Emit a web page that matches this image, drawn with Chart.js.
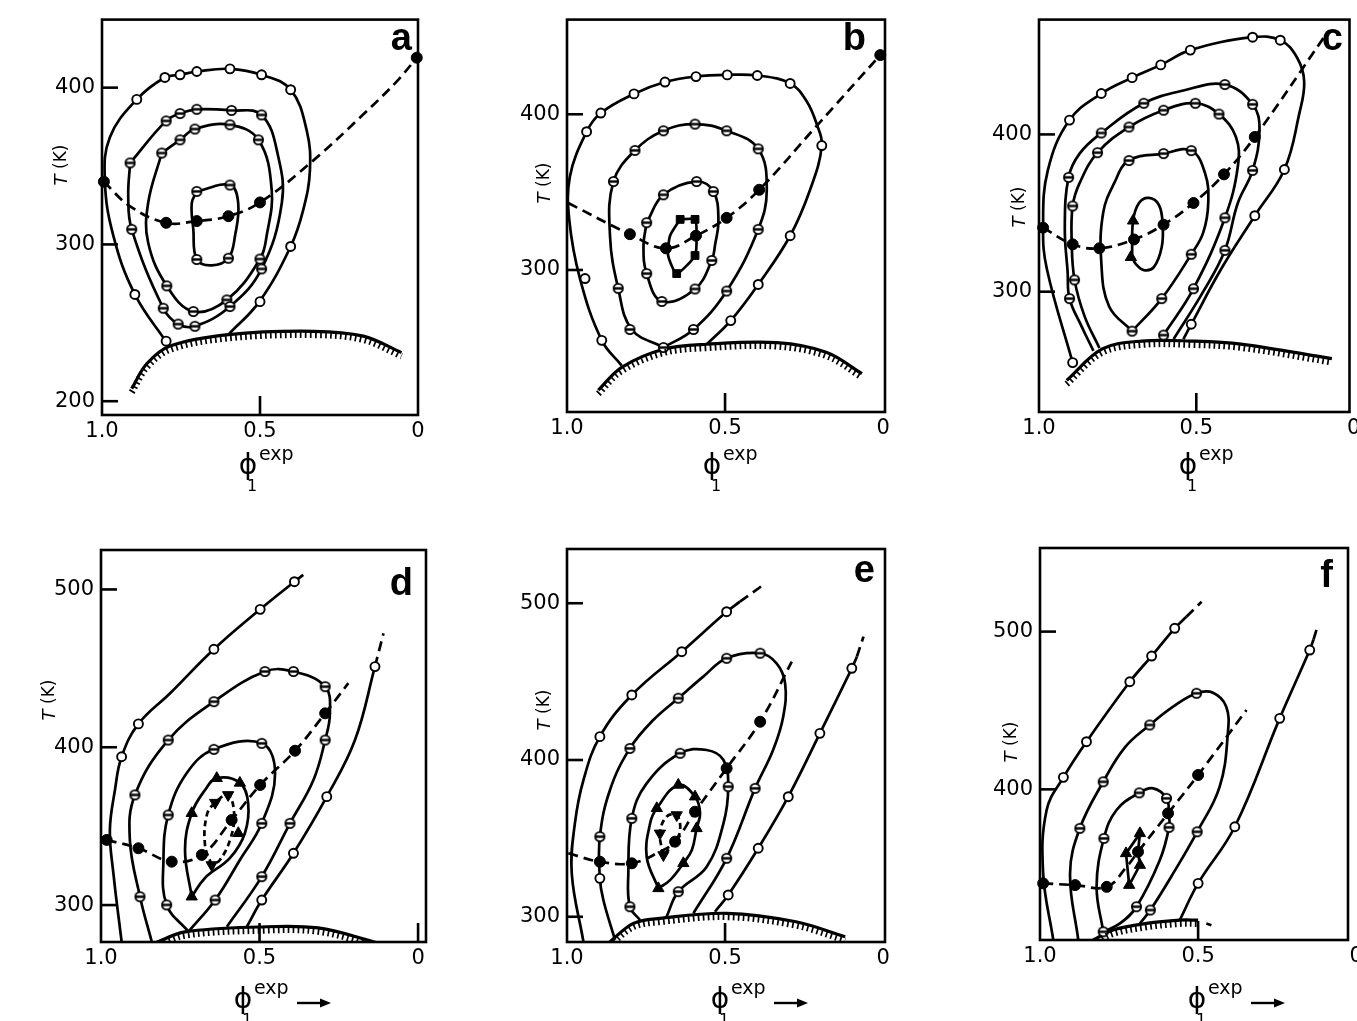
<!DOCTYPE html>
<html><head><meta charset="utf-8">
<script src="https://cdn.jsdelivr.net/npm/chart.js@4.4.1/dist/chart.umd.min.js"></script>
<style>
html,body{margin:0;padding:0;background:#fff;}
#wrap{position:relative;width:1357px;height:1021px;overflow:hidden;background:#fff;}
.pane{position:absolute;}
</style></head><body><div id="wrap"></div>
<script>
// ---------- tick labels ----------
const xTickVals = [1, 0.5, 0];
const xTickLabels = ['1.0', '0.5', '0'];
const yTicksA = [200, 300, 400];
const yTicksB = [300, 400];
const yTicksC = [300, 400];
const yTicksD = [300, 400, 500];
const yTicksE = [300, 400, 500];
const yTicksF = [400, 500];
const letters = ['a','b','c','d','e','f'];

// ---------- panel a ----------
const aOuter = [[0.795,237.3],[0.896,268.1],[0.964,305.5],[0.991,341.0],[0.975,368.4],[0.890,392.5],[0.801,406.5],[0.753,408.2],[0.700,410.3],[0.595,412.0],[0.495,408.2],[0.403,398.7],[0.352,372.5],[0.342,347.4],[0.363,322.2],[0.403,298.7],[0.502,263.5],[0.600,242.5]];
const aOuterPts = [[0.797,238.3],[0.896,268.1],[0.890,392.5],[0.801,406.5],[0.753,408.2],[0.700,410.3],[0.595,412.0],[0.495,408.2],[0.403,398.7],[0.403,298.7],[0.500,263.5]];
const aLoop2 = [[0.911,352.0],[0.797,378.8],[0.753,383.5],[0.700,386.2],[0.590,385.5],[0.495,382.6],[0.442,355.8],[0.431,326.4],[0.495,284.4],[0.595,260.4],[0.706,247.8],[0.759,249.2],[0.806,259.3],[0.906,309.6],[0.917,330.6],[0.911,352.0]];
const aLoop2Pts = [[0.911,352.0],[0.797,378.8],[0.753,383.5],[0.700,386.2],[0.590,385.5],[0.495,382.6],[0.495,284.4],[0.595,260.4],[0.706,247.8],[0.759,249.2],[0.806,259.3],[0.906,309.6]];
const aLoop3 = [[0.811,358.3],[0.753,366.7],[0.706,373.6],[0.595,376.3],[0.505,366.7],[0.463,334.8],[0.479,305.5],[0.500,290.7],[0.605,264.6],[0.711,257.2],[0.795,273.6],[0.854,301.2],[0.854,326.4],[0.811,358.3]];
const aLoop3Pts = [[0.811,358.3],[0.753,366.7],[0.706,373.6],[0.595,376.3],[0.505,366.7],[0.500,290.7],[0.605,264.6],[0.711,257.2],[0.795,273.6]];
const aInner = [[0.700,333.8],[0.595,337.9],[0.569,326.4],[0.579,305.5],[0.600,291.2],[0.653,286.6],[0.700,290.4],[0.711,309.6],[0.716,326.4],[0.700,333.8]];
const aInnerPts = [[0.700,333.8],[0.595,337.9],[0.600,291.2],[0.700,290.4]];
const aDash = [[0.994,340.0],[0.911,324.3],[0.797,313.8],[0.700,314.9],[0.600,318.0],[0.500,326.8],[0.331,353.6],[0.173,383.0],[0.067,404.0],[0.004,419.1]];
const aDashPts = [[0.994,340.0],[0.797,313.8],[0.700,314.9],[0.600,318.0],[0.500,326.8],[0.004,419.1]];
const aHatch = [[0.906,208.0],[0.859,223.7],[0.785,235.2],[0.600,242.5],[0.331,244.6],[0.173,241.5],[0.052,231.0]];

// ---------- panel b ----------
const bOuter = [[0.827,238.6],[0.890,254.8],[0.959,294.5],[0.993,332.5],[0.991,359.9],[0.938,388.8],[0.893,400.8],[0.788,413.1],[0.690,420.7],[0.592,424.2],[0.493,425.3],[0.398,424.9],[0.294,419.8],[0.242,408.4],[0.210,393.7],[0.194,379.9],[0.231,351.5],[0.294,322.0],[0.395,290.7],[0.482,267.5],[0.558,252.3]];
const bOuterPts = [[0.890,254.8],[0.943,294.5],[0.938,388.8],[0.893,400.8],[0.788,413.1],[0.690,420.7],[0.592,424.2],[0.493,425.3],[0.398,424.9],[0.294,419.8],[0.194,379.9],[0.294,322.0],[0.395,290.7],[0.482,267.5]];
const bLoop2 = [[0.695,250.2],[0.795,261.8],[0.838,288.2],[0.864,322.0],[0.853,356.8],[0.785,376.8],[0.695,389.4],[0.595,393.7],[0.495,389.4],[0.395,377.8],[0.368,351.5],[0.395,326.1],[0.495,286.5],[0.600,261.8],[0.695,250.2]];
const bLoop2Pts = [[0.695,250.2],[0.801,261.8],[0.838,288.2],[0.853,356.8],[0.785,376.8],[0.695,389.4],[0.595,393.7],[0.495,389.4],[0.395,377.8],[0.395,326.1],[0.495,286.5],[0.600,261.8]];
const bLoop3 = [[0.748,330.4],[0.695,348.3],[0.590,356.8],[0.537,350.4],[0.521,332.5],[0.532,315.6],[0.542,306.1],[0.595,287.8],[0.700,279.8],[0.748,297.7],[0.758,315.6],[0.748,330.4]];
const bLoop3Pts = [[0.748,330.4],[0.695,348.3],[0.590,356.8],[0.537,350.4],[0.542,306.1],[0.595,287.8],[0.700,279.8],[0.748,297.7]];
const bSq = [[0.642,332.5],[0.595,332.5],[0.590,322.0],[0.595,309.3],[0.653,297.7],[0.680,309.3],[0.674,322.0],[0.642,332.5]];
const bSqPts = [[0.642,332.5],[0.595,332.5],[0.595,309.3],[0.653,297.7]];
const bDash = [[0.996,343.0],[0.801,323.0],[0.687,313.9],[0.592,322.0],[0.495,333.5],[0.392,351.5],[0.210,392.6],[0.009,438.0]];
const bDashPts = [[0.801,323.0],[0.687,313.9],[0.592,322.0],[0.495,333.5],[0.392,351.5],[0.009,438.0]];
const bHatch = [[0.901,222.8],[0.827,237.5],[0.695,249.1],[0.558,252.3],[0.336,253.3],[0.178,247.0],[0.067,233.4]];

// ---------- panel c ----------
const cOuter = [[0.893,254.9],[0.975,314.4],[0.987,340.7],[0.972,377.1],[0.903,409.1],[0.802,426.0],[0.704,436.1],[0.613,444.2],[0.519,453.6],[0.321,461.8],[0.233,459.9],[0.179,448.6],[0.157,433.5],[0.173,412.9],[0.220,377.7],[0.314,348.3],[0.421,314.4],[0.516,279.3],[0.541,269.9]];
const cOuterPts = [[0.893,254.9],[0.903,409.1],[0.802,426.0],[0.704,436.1],[0.613,444.2],[0.519,453.6],[0.321,461.8],[0.233,459.9],[0.220,377.7],[0.314,348.3],[0.516,279.3]];
const cLoop2 = [[0.827,262.4],[0.865,278.1],[0.903,295.6],[0.909,312.5],[0.918,340.7],[0.906,372.7],[0.871,387.8],[0.802,400.9],[0.667,419.8],[0.541,427.9],[0.409,431.7],[0.321,419.1],[0.299,403.4],[0.321,377.1],[0.368,356.4],[0.409,326.3],[0.478,300.0],[0.572,269.9]];
const cLoop2Pts = [[0.903,295.6],[0.906,372.7],[0.802,400.9],[0.667,419.8],[0.409,431.7],[0.321,419.1],[0.321,377.1],[0.409,326.3]];
const cLoop3 = [[0.808,264.2],[0.855,284.3],[0.887,307.5],[0.896,331.3],[0.893,354.5],[0.871,369.0],[0.814,388.4],[0.714,404.7],[0.604,415.4],[0.503,419.8],[0.428,412.9],[0.374,398.4],[0.368,379.6],[0.409,347.0],[0.509,301.9],[0.604,272.4]];
const cLoop3Pts = [[0.887,307.5],[0.893,354.5],[0.814,388.4],[0.714,404.7],[0.604,415.4],[0.503,419.8],[0.428,412.9],[0.409,347.0],[0.509,301.9],[0.604,272.4]];
const cLoop4 = [[0.704,274.9],[0.777,290.6],[0.802,318.8],[0.796,350.2],[0.761,369.0],[0.714,383.4],[0.604,387.8],[0.516,389.7],[0.472,375.2],[0.462,356.4],[0.478,337.6],[0.516,323.8],[0.610,295.6],[0.704,274.9]];
const cLoop4Pts = [[0.704,274.9],[0.714,383.4],[0.604,387.8],[0.516,389.7],[0.516,323.8],[0.610,295.6]];
const cInner = [[0.704,321.9],[0.701,345.1],[0.682,356.4],[0.651,359.6],[0.619,355.2],[0.607,342.6],[0.610,328.2],[0.635,315.6],[0.667,313.7],[0.692,317.5],[0.704,321.9]];
const cTri = [[0.701,345.1],[0.708,321.9]];
const cDash = [[0.987,340.7],[0.893,330.1],[0.808,327.6],[0.698,333.2],[0.604,342.6],[0.509,356.4],[0.412,374.6],[0.314,398.4],[0.094,461.8]];
const cDashPts = [[0.987,340.7],[0.893,330.1],[0.808,327.6],[0.698,333.2],[0.604,342.6],[0.509,356.4],[0.412,374.6],[0.314,398.4]];
const cHatch = [[0.912,243.6],[0.799,263.6],[0.673,268.6],[0.516,268.6],[0.358,266.7],[0.069,257.4]];

// ---------- panel d ----------
const dC1 = [[0.935,276.8],[0.961,320.2],[0.972,347.6],[0.956,372.9],[0.935,394.0],[0.882,414.8],[0.782,434.2],[0.644,462.1],[0.498,487.4],[0.390,504.9],[0.362,509.2]];
const dC1Pts = [[0.935,394.0],[0.882,414.8],[0.644,462.1],[0.498,487.4],[0.390,504.9]];
const dC2 = [[0.840,276.8],[0.877,305.3],[0.909,341.3],[0.893,369.8],[0.788,404.6],[0.644,428.9],[0.483,448.0],[0.393,448.0],[0.293,438.4],[0.278,421.5],[0.293,404.6],[0.330,379.3],[0.404,351.8],[0.493,318.0],[0.603,286.3]];
const dC2Pts = [[0.877,305.3],[0.893,369.8],[0.788,404.6],[0.644,428.9],[0.483,448.0],[0.393,448.0],[0.293,438.4],[0.293,404.6],[0.404,351.8],[0.493,318.0]];
const dC3 = [[0.724,283.2],[0.640,303.2],[0.562,328.6],[0.493,351.8],[0.451,383.5],[0.493,402.5],[0.644,398.7],[0.730,383.5],[0.788,357.1],[0.803,328.6],[0.793,300.1],[0.724,283.2]];
const dC3Pts = [[0.793,300.1],[0.640,303.2],[0.493,351.8],[0.493,402.5],[0.644,398.7],[0.788,357.1]];
const dTri1 = [[0.714,305.3],[0.735,334.9],[0.714,358.2],[0.672,372.9],[0.635,380.4],[0.562,377.4],[0.536,364.7],[0.546,345.7],[0.593,329.9],[0.672,317.2],[0.714,305.3]];
const dTri1Pts = [[0.714,305.3],[0.714,358.2],[0.635,380.4],[0.562,377.4],[0.567,345.5]];
const dTri2 = [[0.651,325.4],[0.672,338.1],[0.666,357.2],[0.640,364.9],[0.599,369.8],[0.580,357.2],[0.593,341.3],[0.625,328.6],[0.651,325.4]];
const dTri2Pts = [[0.651,325.4],[0.640,364.9],[0.599,369.8]];
const dDash = [[0.982,341.3],[0.882,336.0],[0.777,327.5],[0.682,331.8],[0.588,353.9],[0.498,376.1],[0.388,397.8],[0.293,421.5],[0.220,440.6]];
const dDashPts = [[0.982,341.3],[0.882,336.0],[0.777,327.5],[0.682,331.8],[0.588,353.9],[0.498,376.1],[0.388,397.8],[0.293,421.5]];
const dC5 = [[0.540,286.3],[0.493,303.2],[0.393,332.8],[0.288,368.7],[0.199,404.6],[0.136,451.1]];
const dC5Ext = [[0.136,451.1],[0.109,472.2]];
const dC5Pts = [[0.493,303.2],[0.393,332.8],[0.288,368.7],[0.136,451.1]];
const dHatch = [[0.830,276.0],[0.735,283.0],[0.505,286.1],[0.315,285.5],[0.126,276.0]];

// ---------- panel e ----------
const eC1 = [[0.948,284.1],[0.985,327.7],[0.975,359.6],[0.948,387.2],[0.896,414.9],[0.795,441.5],[0.637,469.1],[0.495,494.6],[0.453,501.0]];
const eC1Ext = [[0.453,501.0],[0.379,511.7]];
const eC1Pts = [[0.896,414.9],[0.795,441.5],[0.637,469.1],[0.495,494.6]];
const eC2 = [[0.848,285.2],[0.885,310.7],[0.896,324.5],[0.896,351.1],[0.864,380.9],[0.801,407.4],[0.727,425.5],[0.648,439.4],[0.569,453.2],[0.495,464.9],[0.389,468.1],[0.337,461.7],[0.310,448.9],[0.316,427.6],[0.348,406.4],[0.405,381.9],[0.495,337.3],[0.600,302.2]];
const eC2Pts = [[0.896,351.1],[0.801,407.4],[0.648,439.4],[0.495,464.9],[0.389,468.1],[0.405,381.9],[0.495,337.3]];
const eC2Open = [[0.896,324.5]];
const eC3 = [[0.769,297.9],[0.801,306.4],[0.806,327.7],[0.795,362.8],[0.748,385.1],[0.642,404.3],[0.558,406.4],[0.505,400.0],[0.490,383.0],[0.505,359.6],[0.558,331.9],[0.648,316.0],[0.685,300.0]];
const eC3Pts = [[0.801,306.4],[0.795,362.8],[0.642,404.3],[0.490,383.0],[0.648,316.0]];
const eTri1 = [[0.711,318.1],[0.748,338.3],[0.737,359.6],[0.716,369.2],[0.648,384.1],[0.595,376.6],[0.579,366.0],[0.590,356.4],[0.605,342.6],[0.632,334.1],[0.674,323.4],[0.711,318.1]];
const eTri1Pts = [[0.711,318.1],[0.716,369.2],[0.648,384.1],[0.595,376.6],[0.590,356.4],[0.632,334.1]];
const eTri2 = [[0.695,339.4],[0.706,353.2],[0.685,363.8],[0.653,364.9],[0.642,355.3],[0.658,347.9],[0.685,341.5],[0.695,339.4]];
const eTri2Pts = [[0.706,353.2],[0.653,364.9],[0.695,339.4]];
const eDash = [[0.996,340.5],[0.896,335.1],[0.795,334.1],[0.706,341.5],[0.658,347.9],[0.595,367.0],[0.495,394.7],[0.389,424.4],[0.289,462.7]];
const eDashPts = [[0.896,335.1],[0.795,334.1],[0.658,347.9],[0.595,367.0],[0.495,394.7],[0.389,424.4]];
const eC5 = [[0.532,303.2],[0.490,313.9],[0.395,343.7],[0.300,376.6],[0.200,417.0],[0.099,458.5],[0.083,465.9]];
const eC5Ext = [[0.083,465.9],[0.062,478.7]];
const eC5Pts = [[0.490,313.9],[0.395,343.7],[0.300,376.6],[0.200,417.0],[0.099,458.5]];
const eHatch = [[0.864,284.1],[0.790,295.8],[0.706,299.0],[0.495,302.2],[0.276,296.8],[0.120,287.3]];

// ---------- panel f ----------
const fC1 = [[0.958,304.5],[0.990,346.7],[0.979,386.9],[0.926,407.6],[0.853,430.2],[0.716,468.2],[0.647,484.5],[0.574,502.1],[0.537,509.4]];
const fC1Ext = [[0.537,509.4],[0.489,518.9]];
const fC1Pts = [[0.926,407.6],[0.853,430.2],[0.716,468.2],[0.647,484.5],[0.574,502.1]];
const fC2 = [[0.879,304.5],[0.905,346.7],[0.874,375.3],[0.800,404.8],[0.732,426.5],[0.653,440.8],[0.579,452.4],[0.505,460.9],[0.453,461.2],[0.411,452.4],[0.406,435.5],[0.432,401.6],[0.503,373.1],[0.579,346.7],[0.651,323.5],[0.684,315.0]];
const fC2Pts = [[0.874,375.3],[0.800,404.8],[0.653,440.8],[0.505,460.9],[0.503,373.1],[0.651,323.5]];
const fC3 = [[0.800,309.7],[0.821,338.2],[0.798,368.9],[0.758,386.9],[0.686,397.8],[0.642,400.6],[0.600,394.3],[0.592,384.8],[0.592,375.9],[0.621,355.2],[0.695,325.6],[0.747,315.0],[0.800,309.7]];
const fC3Pts = [[0.800,309.7],[0.798,368.9],[0.686,397.8],[0.600,394.3],[0.592,375.9],[0.695,325.6]];
const fTri = [[0.718,339.3],[0.728,359.4],[0.684,372.1],[0.690,360.4],[0.684,352.0],[0.718,339.3]];
const fTriPts = [[0.684,372.1],[0.728,359.4],[0.684,352.0],[0.718,339.3]];
const fDash = [[0.990,340.4],[0.889,339.3],[0.789,338.2],[0.726,350.9],[0.690,360.4],[0.595,384.8],[0.500,409.1],[0.347,450.3]];
const fDashPts = [[0.990,340.4],[0.889,339.3],[0.789,338.2],[0.690,360.4],[0.595,384.8],[0.500,409.1]];
const fC5 = [[0.558,317.1],[0.500,340.4],[0.384,376.3],[0.242,445.0],[0.147,488.3],[0.135,495.0]];
const fC5Ext = [[0.135,495.0],[0.121,504.2]];
const fC5Pts = [[0.500,340.4],[0.384,376.3],[0.242,445.0],[0.147,488.3]];
const fHatch = [[0.832,304.5],[0.769,310.8],[0.663,315.0],[0.558,317.1],[0.500,317.1]];
const fHatchExt = [[0.474,315.0],[0.458,313.9]];

// ---------- helpers ----------
const FAM = '"DejaVu Sans", "Liberation Sans", sans-serif';
const LW = 2.7;
const P = arr => arr.map(([x, y]) => ({x, y}));
const thetaImg = (() => {
  const c = document.createElement('canvas'); c.width = 13; c.height = 13;
  const g = c.getContext('2d');
  g.beginPath(); g.arc(6.5, 6.5, 4.6, 0, Math.PI * 2); g.fillStyle = '#fff'; g.fill();
  g.lineWidth = 1.9; g.strokeStyle = '#000'; g.stroke();
  g.beginPath(); g.moveTo(2, 6.5); g.lineTo(11, 6.5); g.lineWidth = 2.4; g.stroke();
  return c;
})();
function curve(arr, extra) {
  return Object.assign({data: P(arr), showLine: true, pointRadius: 0, borderColor: '#000', borderWidth: LW,
    tension: 0.4, fill: false, order: 1}, extra || {});
}
function dashed(arr, extra) { return curve(arr, Object.assign({borderDash: [10, 6]}, extra || {})); }
function hatch(arr) { return curve(arr, {borderWidth: 3.2, hatch: true, order: 2, tension: 0.35}); }
function marks(arr, kind) {
  const base = {data: P(arr), showLine: false, order: 0, clip: false, borderColor: '#000'};
  if (kind === 'open') return Object.assign(base, {pointStyle: 'circle', pointRadius: 4.5, pointBackgroundColor: '#fff', pointBorderColor: '#000', pointBorderWidth: 1.9});
  if (kind === 'theta') return Object.assign(base, {pointStyle: thetaImg, pointRadius: 5});
  if (kind === 'dot') return Object.assign(base, {pointStyle: 'circle', pointRadius: 5.5, pointBackgroundColor: '#000', pointBorderColor: '#000', pointBorderWidth: 1});
  if (kind === 'square') return Object.assign(base, {pointStyle: 'rect', pointRadius: 5.5, pointBackgroundColor: '#000', pointBorderColor: '#000', pointBorderWidth: 1});
  if (kind === 'up') return Object.assign(base, {pointStyle: 'triangle', pointRadius: 6.5, pointBackgroundColor: '#000', pointBorderColor: '#000', pointBorderWidth: 1});
  if (kind === 'down') return Object.assign(base, {pointStyle: 'triangle', pointRotation: 180, pointRadius: 6.5, pointBackgroundColor: '#000', pointBorderColor: '#000', pointBorderWidth: 1});
}

// ---------- panels (layout) ----------
const panels = [
  {canvas: [0, 0, 455, 500], plot: [102, 14, 418, 415], xr: [0, 1], yr: [191.2, 443.4], yTicks: yTicksA, tk: [62, 165], phi: [248, 467], arrow: false, lp: [412, 50],
   ds: [curve(aOuter), curve(aLoop2), curve(aLoop3), curve(aInner), dashed(aDash), hatch(aHatch),
        marks(aOuterPts, 'open'), marks(aLoop2Pts, 'theta'), marks(aLoop3Pts, 'theta'), marks(aInnerPts, 'theta'), marks(aDashPts, 'dot')]},
  {canvas: [460, 0, 470, 500], plot: [567, 14, 885, 412], xr: [-0.006, 1], yr: [208.8, 460.8], yTicks: yTicksB, tk: [545, 183], phi: [712, 467], arrow: false, lp: [866, 50],
   ds: [curve(bOuter), curve(bLoop2), curve(bLoop3), curve(bSq, {tension: 0.2}), dashed(bDash), hatch(bHatch),
        marks(bOuterPts, 'open'), marks(bLoop2Pts, 'theta'), marks(bLoop3Pts, 'theta'), marks(bSqPts, 'square'), marks(bDashPts, 'dot')]},
  {canvas: [935, 0, 422, 500], plot: [1039, 14, 1353, 412], xr: [0.013, 1], yr: [223.5, 473.0], yTicks: yTicksC, tk: [1020, 207], phi: [1188, 467], arrow: false, lp: [1343, 50],
   ds: [curve(cOuter), curve(cLoop2), curve(cLoop3), curve(cLoop4), curve(cInner), dashed(cDash), hatch(cHatch),
        marks(cOuterPts, 'open'), marks(cLoop2Pts, 'theta'), marks(cLoop3Pts, 'theta'), marks(cLoop4Pts, 'theta'), marks(cTri, 'up'), marks(cDashPts, 'dot')]},
  {canvas: [0, 510, 455, 511], plot: [101, 550, 426, 942], xr: [-0.025, 1], yr: [276.6, 525.0], yTicks: yTicksD, tk: [50, 700], phi: [243, 1001], arrow: true, lp: [413, 595],
   ds: [curve(dC1), curve(dC2), curve(dC3), curve(dTri1), dashed(dTri2, {borderDash: [6, 4]}), dashed(dDash), curve(dC5), dashed(dC5Ext, {tension: 0}), hatch(dHatch),
        marks(dC1Pts, 'open'), marks(dC2Pts, 'theta'), marks(dC3Pts, 'theta'), marks(dTri1Pts, 'up'), marks(dTri2Pts, 'down'), marks(dDashPts, 'dot'), marks(dC5Pts, 'open')]},
  {canvas: [460, 510, 470, 511], plot: [567, 549, 885, 942], xr: [-0.006, 1], yr: [283.9, 534.6], yTicks: yTicksE, tk: [545, 710], phi: [720, 1001], arrow: true, lp: [875, 582],
   ds: [curve(eC1), dashed(eC1Ext, {tension: 0}), curve(eC2), curve(eC3), curve(eTri1), dashed(eTri2, {borderDash: [6, 4]}), dashed(eDash), curve(eC5), dashed(eC5Ext, {tension: 0}), hatch(eHatch),
        marks(eC1Pts, 'open'), marks(eC2Pts, 'theta'), marks(eC2Open, 'open'), marks(eC3Pts, 'theta'), marks(eTri1Pts, 'up'), marks(eTri2Pts, 'down'), marks(eDashPts, 'dot'), marks(eC5Pts, 'open')]},
  {canvas: [935, 510, 422, 511], plot: [1040, 548, 1348, 940], xr: [0.026, 1], yr: [304.5, 553.0], yTicks: yTicksF, tk: [1012, 742], phi: [1197, 1001], arrow: true, lp: [1333, 587],
   ds: [curve(fC1), dashed(fC1Ext, {tension: 0}), curve(fC2), curve(fC3), curve(fTri, {tension: 0}), dashed(fDash), curve(fC5), dashed(fC5Ext, {tension: 0}), hatch(fHatch), dashed(fHatchExt, {tension: 0}),
        marks(fC1Pts, 'open'), marks(fC2Pts, 'theta'), marks(fC3Pts, 'theta'), marks(fTriPts, 'up'), marks(fDashPts, 'dot'), marks(fC5Pts, 'open')]}
];

function makeDecor(p, letter) {
  const [ox, oy] = p.canvas;
  return {
    id: 'decor' + letter,
    afterDatasetsDraw(chart) {
      const ctx = chart.ctx, A = chart.chartArea;
      chart.data.datasets.forEach((ds, i) => {
        if (!ds.hatch) return;
        const line = chart.getDatasetMeta(i).dataset;
        ctx.save();
        ctx.beginPath(); ctx.rect(A.left, A.top, A.right - A.left, A.bottom - A.top); ctx.clip();
        ctx.translate(0, 3.6);
        ctx.lineWidth = 6.5; ctx.setLineDash([1.7, 3.3]); ctx.strokeStyle = '#000'; ctx.lineCap = 'butt';
        ctx.beginPath(); line.path(ctx); ctx.stroke();
        ctx.restore();
      });
    },
    afterDraw(chart) {
      const ctx = chart.ctx, A = chart.chartArea, sx = chart.scales.x, sy = chart.scales.y;
      ctx.save();
      ctx.strokeStyle = '#000'; ctx.fillStyle = '#000'; ctx.setLineDash([]); ctx.lineWidth = 2.6;
      ctx.strokeRect(A.left, A.top, A.right - A.left, A.bottom - A.top);
      p.yTicks.forEach(v => {
        const y = sy.getPixelForValue(v);
        ctx.beginPath(); ctx.moveTo(A.left, y); ctx.lineTo(A.left + 16, y); ctx.stroke();
      });
      ctx.font = '21px ' + FAM; ctx.textAlign = 'center'; ctx.textBaseline = 'middle';
      xTickVals.forEach((v, i) => {
        const x = sx.getPixelForValue(v);
        if (x > A.left + 3 && x < A.right - 3) {
          ctx.beginPath(); ctx.moveTo(x, A.bottom); ctx.lineTo(x, A.bottom - 19); ctx.stroke();
        }
        ctx.fillText(xTickLabels[i], x, A.bottom + 17);
      });
      // y title T (K)
      ctx.save();
      ctx.translate(p.tk[0] - ox, p.tk[1] - oy); ctx.rotate(-Math.PI / 2);
      ctx.font = 'italic 18px ' + FAM; const w1 = ctx.measureText('T').width;
      ctx.font = '17px ' + FAM; const w2 = ctx.measureText(' (K)').width;
      const s = -(w1 + w2) / 2;
      ctx.textAlign = 'left'; ctx.textBaseline = 'middle';
      ctx.font = 'italic 18px ' + FAM; ctx.fillText('T', s, 0);
      ctx.font = '17px ' + FAM; ctx.fillText(' (K)', s + w1, 0);
      ctx.restore();
      // x title phi_1^exp
      const px = p.phi[0] - ox, py = p.phi[1] - oy;
      ctx.textBaseline = 'middle';
      ctx.font = '28px ' + FAM; ctx.textAlign = 'center'; ctx.fillText('\u03D5', px, py);
      ctx.font = '19px ' + FAM; ctx.textAlign = 'left'; ctx.fillText('exp', px + 11, py - 12);
      ctx.font = '16px ' + FAM; ctx.textAlign = 'center'; ctx.fillText('1', px + 4, py + 20);
      if (p.arrow) {
        ctx.lineWidth = 2.4;
        ctx.beginPath(); ctx.moveTo(px + 54, py + 2); ctx.lineTo(px + 80, py + 2); ctx.stroke();
        ctx.beginPath(); ctx.moveTo(px + 88, py + 2); ctx.lineTo(px + 77, py - 2.5); ctx.lineTo(px + 77, py + 6.5); ctx.closePath(); ctx.fill();
      }
      // panel letter
      ctx.font = 'bold 38px "Liberation Sans", Arial, sans-serif'; ctx.textAlign = 'right'; ctx.textBaseline = 'alphabetic';
      ctx.fillText(letter, p.lp[0] - ox, p.lp[1] - oy);
      ctx.restore();
    }
  };
}

const wrap = document.getElementById('wrap');
panels.forEach((p, idx) => {
  const [cl, ct, cw, ch] = p.canvas;
  const [pl, pt, pr, pb] = p.plot;
  const div = document.createElement('div');
  div.className = 'pane';
  div.style.left = cl + 'px'; div.style.top = ct + 'px';
  div.style.width = cw + 'px'; div.style.height = ch + 'px';
  const cv = document.createElement('canvas');
  cv.width = cw; cv.height = ch; cv.style.width = cw + 'px'; cv.style.height = ch + 'px';
  div.appendChild(cv); wrap.appendChild(div);
  new Chart(cv, {
    type: 'scatter',
    data: {datasets: p.ds},
    options: {
      responsive: false, animation: false, events: [], devicePixelRatio: 1,
      layout: {padding: {left: 0, top: pt - ct, right: (cl + cw) - pr, bottom: 0}},
      plugins: {legend: {display: false}, tooltip: {enabled: false}},
      scales: {
        x: {type: 'linear', reverse: true, min: p.xr[0], max: p.xr[1],
            grid: {display: false, drawTicks: false}, border: {display: false},
            ticks: {display: false},
            afterFit: s => { s.height = (ct + ch) - pb; }},
        y: {type: 'linear', min: p.yr[0], max: p.yr[1],
            grid: {display: false, drawTicks: false}, border: {display: false},
            afterBuildTicks: s => { s.ticks = p.yTicks.map(v => ({value: v})); },
            ticks: {font: {family: 'DejaVu Sans', size: 21}, color: '#000', padding: 7, callback: v => String(v)},
            afterFit: s => { s.width = pl - cl; }}
      }
    },
    plugins: [makeDecor(p, letters[idx])]
  });
});
</script>
</body></html>
